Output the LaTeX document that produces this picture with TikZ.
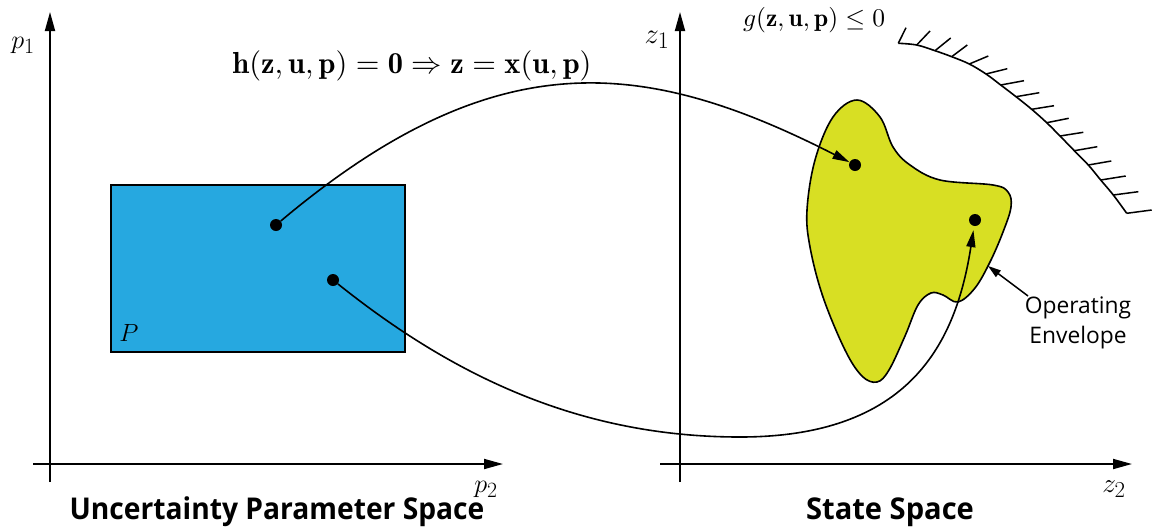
\documentclass[tikz,border=0pt]{standalone}
\usepackage{fontspec}
\newfontfamily\osans{Open Sans}
\usetikzlibrary{arrows.meta}
\definecolor{boxblue}{RGB}{38,168,224}
\definecolor{envyellow}{RGB}{216,223,35}
\begin{document}
\begin{tikzpicture}[x=1pt,y=-1pt,
  axis/.style={line width=1.8pt,-{Triangle[length=19pt,width=10pt]}},
  conn/.style={line width=1.6pt,-{Triangle[length=17pt,width=9pt]}},
  dotnode/.style={circle,fill=black,inner sep=0pt,minimum size=12pt},
  axlabel/.style={inner sep=0pt,font=\fontsize{30}{34}\selectfont},
  heading/.style={inner sep=0pt,font=\osans\bfseries\fontsize{30}{36}\selectfont},
  hatch/.style={line width=1.5pt}
]
\useasboundingbox (0,0) rectangle (1153,531);

% axes
\coordinate (la0) at (50,482);  \coordinate (la1) at (50,12);
\coordinate (lb0) at (33,464);  \coordinate (lb1) at (503,464);
\coordinate (ra0) at (680,482); \coordinate (ra1) at (680,12);
\coordinate (rb0) at (660,464); \coordinate (rb1) at (1132,464);
\draw[axis] (la0) -- (la1);
\draw[axis] (lb0) -- (lb1);
\draw[axis] (ra0) -- (ra1);
\draw[axis] (rb0) -- (rb1);

\node[axlabel] (p1) at (23,45) {\scalebox{1.05}{$p_1$}};
\node[axlabel] (p2) at (486,489) {\scalebox{1.05}{$p_2$}};
\node[axlabel] (z1) at (657,40) {\scalebox{1.15}{$z_1$}};
\node[axlabel] (z2) at (1114,489) {\scalebox{1.1}{$z_2$}};

% uncertainty set
\draw[fill=boxblue,line width=1.2pt] (111,185) rectangle (405,352);
\node[inner sep=0pt,font=\fontsize{28}{32}\selectfont] (P) at (129,333) {$P$};

% operating envelope
\draw[fill=envyellow,line width=1.6pt] plot[smooth cycle,tension=0.6] coordinates {
  (857,100) (880,117) (893,147) (910,165) (940,180) (993,185) (1008,192)
  (1011,207) (1003,232) (990,262) (975,288) (958,302) (943,295) (931,293)
  (918,305) (905,336) (889,370) (877,382) (862,376) (845,350) (823,297)
  (810,247) (807,210) (815,160) (833,117)};

% constraint boundary
\draw[line width=1.6pt] plot[smooth,tension=0.6] coordinates {
  (898.3,43.3) (916.7,45) (935,50.7) (951.7,56.7) (969.3,64) (986,74)
  (1000.7,85) (1016,96.7) (1031.7,109.3) (1046.7,122.7) (1060,136)
  (1074.3,150.7) (1088.3,165) (1100.7,180) (1113.3,195) (1126.7,213.3)};
\foreach \ax/\ay/\bx/\by in {
  898.3/43.3/906/27.7, 916.7/45/930/31, 935/50.7/950.7/38,
  951.7/56.7/967.3/45, 969.3/64/988.3/56, 986/74/1007.3/68.7,
  1000.7/85/1024/80.7, 1016/96.7/1039.3/92.7, 1031.7/109.3/1054/105.7,
  1046.7/122.7/1068.7/118.3, 1060/136/1083.3/132.3, 1074.3/150.7/1097.3/146.7,
  1088.3/165/1111.3/161, 1100.7/180/1125.7/176, 1113.3/195/1138.3/191.7,
  1126.7/213.3/1151.7/210}
  \draw[hatch] (\ax,\ay) -- (\bx,\by);

% labels
\node[inner sep=0pt] (hl) at (412,66) {\resizebox{359pt}{!}{$\mathbf{h}(\mathbf{z},\mathbf{u},\mathbf{p}) = \mathbf{0} \Rightarrow \mathbf{z} = \mathbf{x}(\mathbf{u},\mathbf{p})$}};
\node[inner sep=0pt] (gl) at (814,20) {\resizebox{142pt}{!}{$g(\mathbf{z},\mathbf{u},\mathbf{p}) \leq 0$}};

% points
\node[dotnode] (d1) at (276,225) {};
\node[dotnode] (d2) at (333,280) {};
\node[dotnode] (d3) at (855,165) {};
\node[dotnode] (d4) at (975,220) {};
\coordinate (low) at (740,437);

\draw[conn] (d1) .. controls (496,40) and (645,58) .. (d3);
\draw[conn,shorten >=4pt] (d2) .. controls (453,376) and (580,437) .. (low)
  .. controls (910,437) and (956,343) .. (d4);

% operating envelope label
\node[inner sep=0pt,align=center,font=\osans\fontsize{22.8}{30}\selectfont] (op) at (1078,323) {Operating\\Envelope};
\coordinate (opa) at (1028,296);
\coordinate (opb) at (988,266);
\draw[line width=1.5pt,-{Triangle[length=13pt,width=8pt]}] (opa) -- (opb);

% headings
\node[heading] (t1) at (277,512) {\scalebox{0.94}[1]{Uncertainty Parameter Space}};
\node[heading] (t2) at (890,512) {\scalebox{0.97}[1]{State Space}};
\end{tikzpicture}
\end{document}
